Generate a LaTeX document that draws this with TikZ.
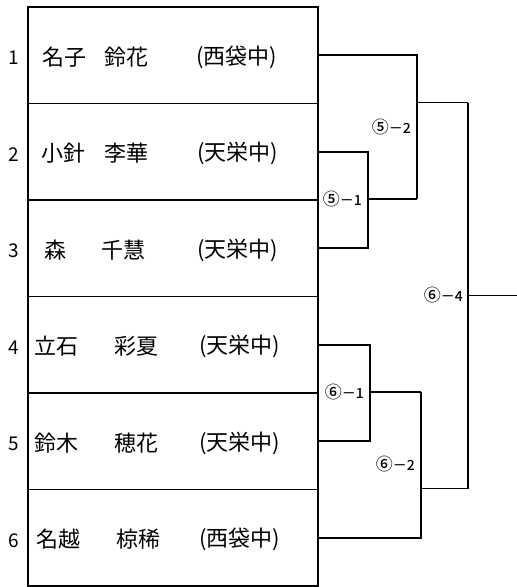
\documentclass[tikz,border=0pt]{standalone}
\usepackage{fontspec}
\newfontfamily\jp{Noto Sans CJK JP}
\newfontfamily\jpm{Noto Sans CJK JP Medium}
\begin{document}
\begin{tikzpicture}[x=1pt,y=-1pt,
  rowbox/.style={draw,line width=1.8pt,rectangle,minimum width=290pt,minimum height=96.5pt,anchor=north west,inner sep=0pt},
  nm/.style={anchor=west,inner sep=0pt,font=\jp\fontsize{22}{22}\selectfont},
  num/.style={inner sep=0pt,font=\jp\fontsize{19}{19}\selectfont},
  lab/.style={anchor=east,inner sep=0pt,font=\jpm\fontsize{14}{14}\selectfont},
  br/.style={line width=1.8pt}]
\fill[white] (0,0) rectangle (517,587);
\useasboundingbox (0,0) rectangle (517,587);
% rows
\foreach \i in {1,...,6}{
  \node[rowbox] (r\i) at (27,{6+(\i-1)*96.5}) {};
  \node[num] (num\i) at (14,{58+(\i-1)*96.5}) {\i};
}
% names
\node[nm] (a1) at (42,57) {名子};   \node[nm] (b1) at (104,57) {鈴花}; \node[nm] (c1) at (196,57) {(西袋中)};
\node[nm] (a2) at (41,153.5) {小針}; \node[nm] (b2) at (104,153.5) {李華}; \node[nm] (c2) at (197,153.5) {(天栄中)};
\node[nm] (a3) at (44,250) {森};    \node[nm] (b3) at (101,250) {千慧}; \node[nm] (c3) at (197,250) {(天栄中)};
\node[nm] (a4) at (34,346.5) {立石}; \node[nm] (b4) at (114,346.5) {彩夏}; \node[nm] (c4) at (199,346.5) {(天栄中)};
\node[nm] (a5) at (34,443) {鈴木};   \node[nm] (b5) at (114,443) {穂花}; \node[nm] (c5) at (199,443) {(天栄中)};
\node[nm] (a6) at (36,539.5) {名越}; \node[nm] (b6) at (116,539.5) {椋稀}; \node[nm] (c6) at (199,539.5) {(西袋中)};
% bracket points
\coordinate (m51) at (368,199);
\coordinate (w51) at (417,199);
\coordinate (o52) at (417,102.5);
\coordinate (w52) at (468,102.5);
\coordinate (m61) at (370,392);
\coordinate (w61) at (421,392);
\coordinate (o62) at (421,488.5);
\coordinate (w62) at (468,488.5);
\coordinate (o64) at (468,295.5);
\coordinate (fin) at (517,295.5);
% connectors
\draw[br] (r2.east) -| (m51) |- (r3.east);
\draw[br] (m51) -- (w51);
\draw[br] (r1.east) -| (w51);
\draw[br] (o52) -- (w52);
\draw[br] (r4.east) -| (m61) |- (r5.east);
\draw[br] (m61) -- (w61);
\draw[br] (w61) |- (r6.east);
\draw[br] (o62) -- (w62);
\draw[br] (w52) -- (w62);
\draw[br] (o64) -- (fin);
% labels
\node[lab] (l51) at (362,199) {{\fontsize{17}{17}\selectfont ⑤}－1};
\node[lab] (l52) at (411,127) {{\fontsize{17}{17}\selectfont ⑤}－2};
\node[lab] (l64) at (463,295) {{\fontsize{17}{17}\selectfont ⑥}－4};
\node[lab] (l61) at (364,392) {{\fontsize{17}{17}\selectfont ⑥}－1};
\node[lab] (l62) at (415,464) {{\fontsize{17}{17}\selectfont ⑥}－2};
\end{tikzpicture}
\end{document}
